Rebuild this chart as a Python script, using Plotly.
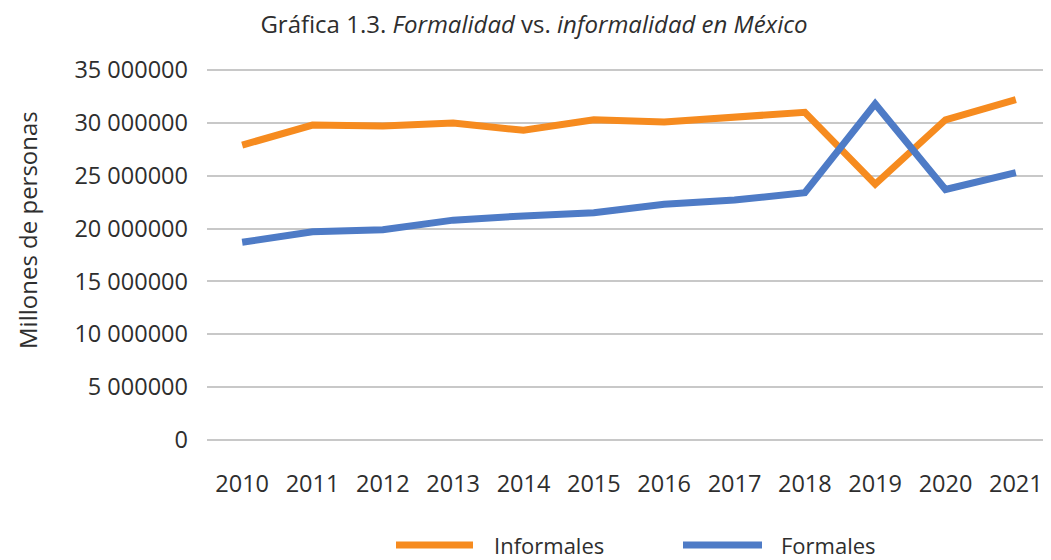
import plotly.graph_objects as go

years = ["2010", "2011", "2012", "2013", "2014", "2015", "2016", "2017", "2018", "2019", "2020", "2021"]
informales = [27.9e6, 29.8e6, 29.7e6, 30.0e6, 29.3e6, 30.3e6, 30.1e6, 30.6e6, 31.0e6, 24.2e6, 30.3e6, 32.2e6]
formales = [18.7e6, 19.7e6, 19.9e6, 20.8e6, 21.2e6, 21.5e6, 22.3e6, 22.7e6, 23.4e6, 31.8e6, 23.7e6, 25.3e6]
tick_vals = [0, 5e6, 10e6, 15e6, 20e6, 25e6, 30e6, 35e6]
tick_text = ["0", "5 000000", "10 000000", "15 000000", "20 000000",
             "25 000000", "30 000000", "35 000000"]
series_names = ["Informales", "Formales"]
colors = ["#F68B1F", "#4E7BC6"]

FONT = "Open Sans"
TXT = "#2E2E2E"

# page has an 8px body margin; work in figure coordinates
W, H = 1043, 552
L, R, T, B = 199, 0, 60, 118
PW, PH = W - L - R, H - T - B

def px(x):
    return (x - L) / PW

def py(y):
    return (H - B - y) / PH

fig = go.Figure()
for name, vals, col in zip(series_names, [informales, formales], colors):
    fig.add_trace(go.Scatter(x=years, y=vals, mode="lines", name=name,
                             line=dict(color=col, width=7), showlegend=False))

fig.update_layout(
    width=W, height=H,
    paper_bgcolor="white", plot_bgcolor="white",
    margin=dict(l=L, r=R, t=T, b=B),
    title=dict(text="Gráfica 1.3. <i>Formalidad</i> vs. <i>informalidad en México</i>",
               x=526 / W, xanchor="center", y=1 - 17 / H, yanchor="middle",
               font=dict(family=FONT, size=24, color=TXT)),
    font=dict(family=FONT, size=23.5, color=TXT),
)
fig.update_xaxes(type="category", range=[-0.5, 11.5], showgrid=False, showline=False,
                 ticks="", tickfont=dict(family=FONT, size=23.5, color=TXT), ticklabelstandoff=25)
fig.update_yaxes(range=[-0.2e6, 35.2e6], tickvals=tick_vals, ticktext=tick_text,
                 showgrid=True, gridcolor="#C8C8C8", gridwidth=1.5, zeroline=False,
                 showline=False, ticks="", ticklabelstandoff=18,
                 tickfont=dict(family=FONT, size=23.5, color=TXT))

# y-axis title
fig.add_annotation(text="Millones de personas", textangle=-90, xref="paper", yref="paper",
                   x=px(20), y=py(222), xanchor="center", yanchor="middle", showarrow=False,
                   font=dict(family=FONT, size=24, color=TXT))

# custom legend
leg_items = [(388, 465, 485), (675, 754, 772)]
ly = py(537)
for (x0, x1, tx), name, col in zip(leg_items, series_names, colors):
    fig.add_shape(type="line", xref="paper", yref="paper",
                  x0=px(x0), x1=px(x1), y0=ly, y1=ly,
                  line=dict(color=col, width=7))
    fig.add_annotation(text=name, xref="paper", yref="paper", x=px(tx), y=ly,
                       xanchor="left", yanchor="middle", showarrow=False, borderpad=0,
                       font=dict(family=FONT, size=22, color=TXT))

fig.write_html("out.html")
